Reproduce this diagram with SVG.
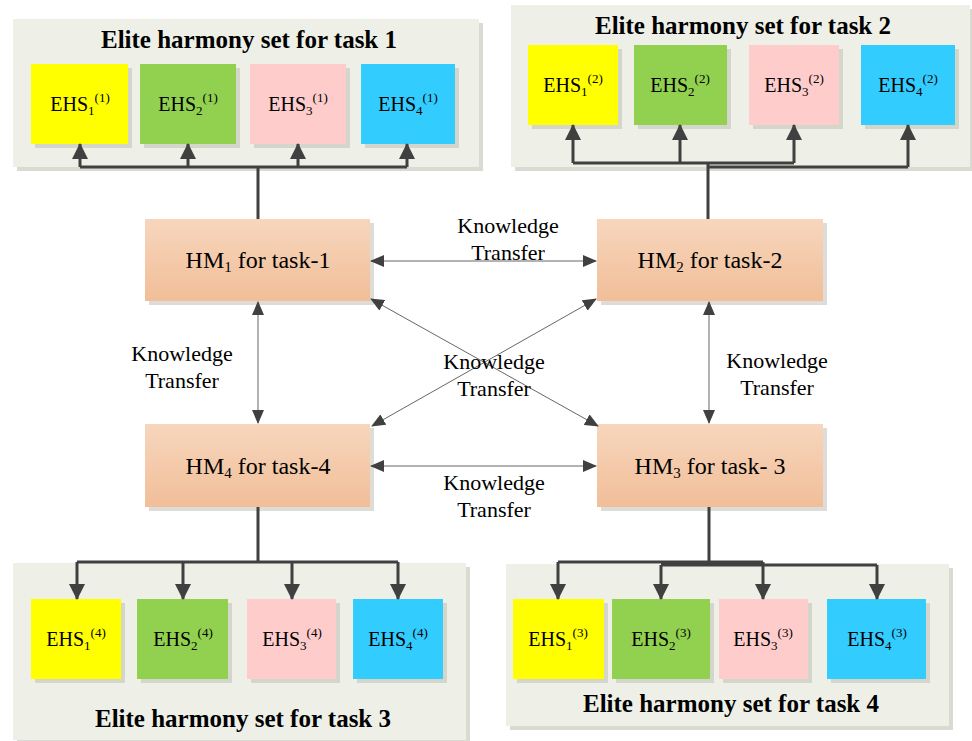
<svg xmlns="http://www.w3.org/2000/svg" width="972" height="741" viewBox="0 0 972 741" font-family="Liberation Serif">
<style>
.panel{fill:#eef0e8}
.pshadow{fill:#d9dbd3}
.bshadow{fill:#d4d6cc}
.y{fill:#ffff00}.g{fill:#92d050}.p{fill:#ffcccc}.b{fill:#33ccff}
.hm{fill:url(#hmg)}
.hmshadow{fill:#dedcd6}
.title{font-weight:bold;font-size:25px;fill:#000;text-anchor:middle}
.ehs{font-size:20px;fill:#000;text-anchor:middle}
.hmt{font-size:24px;fill:#000;text-anchor:middle}
.sm{font-size:13px}
.sm2{font-size:15px}
.kt{font-size:22px;fill:#000;text-anchor:middle}
.thick{stroke:#404040;stroke-width:3;fill:none}
.thin{stroke:#666;stroke-width:1;fill:none;marker-start:url(#ta);marker-end:url(#ta)}
</style>
<defs>
<linearGradient id="hmg" x1="0" y1="0" x2="0" y2="1">
<stop offset="0" stop-color="#f7d6bd"/>
<stop offset="1" stop-color="#f1be98"/>
</linearGradient>
<marker id="ba" markerUnits="userSpaceOnUse" markerWidth="16" markerHeight="16" refX="15" refY="8" orient="auto">
<path d="M0,0 L16,8 L0,16 z" fill="#404040"/>
</marker>
<marker id="ta" markerUnits="userSpaceOnUse" markerWidth="14" markerHeight="12" refX="13" refY="6" orient="auto-start-reverse">
<path d="M0,0 L14,6 L0,12 z" fill="#404040"/>
</marker>
</defs>

<!-- Panel task 1 -->
<g id="panel1">
<rect class="pshadow" x="17" y="23" width="466" height="148"/>
<rect class="panel" x="13" y="19" width="466" height="148"/>
<text class="title" x="249" y="48">Elite harmony set for task 1</text>
</g>
<g id="ehs1-1"><rect class="bshadow" x="35" y="68" width="97" height="80"/><rect class="y" x="31" y="64" width="97" height="80"/><text class="ehs" x="80" y="111">EHS<tspan class="sm" dy="4">1</tspan><tspan class="sm" dy="-13">(1)</tspan></text></g>
<g id="ehs1-2"><rect class="bshadow" x="144" y="68" width="96" height="80"/><rect class="g" x="140" y="64" width="96" height="80"/><text class="ehs" x="188" y="111">EHS<tspan class="sm" dy="4">2</tspan><tspan class="sm" dy="-13">(1)</tspan></text></g>
<g id="ehs1-3"><rect class="bshadow" x="254" y="68" width="96" height="80"/><rect class="p" x="250" y="64" width="96" height="80"/><text class="ehs" x="298" y="111">EHS<tspan class="sm" dy="4">3</tspan><tspan class="sm" dy="-13">(1)</tspan></text></g>
<g id="ehs1-4"><rect class="bshadow" x="365" y="68" width="94" height="80"/><rect class="b" x="361" y="64" width="94" height="80"/><text class="ehs" x="408" y="111">EHS<tspan class="sm" dy="4">4</tspan><tspan class="sm" dy="-13">(1)</tspan></text></g>

<!-- Panel task 2 -->
<g id="panel2">
<rect class="pshadow" x="515" y="9" width="459" height="162"/>
<rect class="panel" x="511" y="5" width="459" height="162"/>
<text class="title" x="743" y="34">Elite harmony set for task 2</text>
</g>
<g id="ehs2-1"><rect class="bshadow" x="532" y="49" width="90" height="80"/><rect class="y" x="528" y="45" width="90" height="80"/><text class="ehs" x="573" y="92">EHS<tspan class="sm" dy="4">1</tspan><tspan class="sm" dy="-13">(2)</tspan></text></g>
<g id="ehs2-2"><rect class="bshadow" x="638" y="49" width="93" height="80"/><rect class="g" x="634" y="45" width="93" height="80"/><text class="ehs" x="680" y="92">EHS<tspan class="sm" dy="4">2</tspan><tspan class="sm" dy="-13">(2)</tspan></text></g>
<g id="ehs2-3"><rect class="bshadow" x="753" y="49" width="90" height="80"/><rect class="p" x="749" y="45" width="90" height="80"/><text class="ehs" x="794" y="92">EHS<tspan class="sm" dy="4">3</tspan><tspan class="sm" dy="-13">(2)</tspan></text></g>
<g id="ehs2-4"><rect class="bshadow" x="865" y="49" width="94" height="80"/><rect class="b" x="861" y="45" width="94" height="80"/><text class="ehs" x="908" y="92">EHS<tspan class="sm" dy="4">4</tspan><tspan class="sm" dy="-13">(2)</tspan></text></g>

<!-- Panel task 3 -->
<g id="panel3">
<rect class="pshadow" x="17" y="567" width="453" height="177"/>
<rect class="panel" x="13" y="563" width="453" height="177"/>
<text class="title" x="243" y="727">Elite harmony set for task 3</text>
</g>
<g id="ehs3-1"><rect class="bshadow" x="35" y="603" width="90" height="80"/><rect class="y" x="31" y="599" width="90" height="80"/><text class="ehs" x="76" y="646">EHS<tspan class="sm" dy="4">1</tspan><tspan class="sm" dy="-13">(4)</tspan></text></g>
<g id="ehs3-2"><rect class="bshadow" x="141" y="603" width="91" height="80"/><rect class="g" x="137" y="599" width="91" height="80"/><text class="ehs" x="183" y="646">EHS<tspan class="sm" dy="4">2</tspan><tspan class="sm" dy="-13">(4)</tspan></text></g>
<g id="ehs3-3"><rect class="bshadow" x="251" y="603" width="89" height="80"/><rect class="p" x="247" y="599" width="89" height="80"/><text class="ehs" x="292" y="646">EHS<tspan class="sm" dy="4">3</tspan><tspan class="sm" dy="-13">(4)</tspan></text></g>
<g id="ehs3-4"><rect class="bshadow" x="357" y="603" width="90" height="80"/><rect class="b" x="353" y="599" width="90" height="80"/><text class="ehs" x="398" y="646">EHS<tspan class="sm" dy="4">4</tspan><tspan class="sm" dy="-13">(4)</tspan></text></g>

<!-- Panel task 4 -->
<g id="panel4">
<rect class="pshadow" x="510" y="568" width="443" height="162"/>
<rect class="panel" x="506" y="564" width="443" height="162"/>
<text class="title" x="731" y="712">Elite harmony set for task 4</text>
</g>
<g id="ehs4-1"><rect class="bshadow" x="517" y="603" width="91" height="80"/><rect class="y" x="513" y="599" width="91" height="80"/><text class="ehs" x="558" y="646">EHS<tspan class="sm" dy="4">1</tspan><tspan class="sm" dy="-13">(3)</tspan></text></g>
<g id="ehs4-2"><rect class="bshadow" x="616" y="603" width="98" height="80"/><rect class="g" x="612" y="599" width="98" height="80"/><text class="ehs" x="661" y="646">EHS<tspan class="sm" dy="4">2</tspan><tspan class="sm" dy="-13">(3)</tspan></text></g>
<g id="ehs4-3"><rect class="bshadow" x="723" y="603" width="89" height="80"/><rect class="p" x="719" y="599" width="89" height="80"/><text class="ehs" x="763" y="646">EHS<tspan class="sm" dy="4">3</tspan><tspan class="sm" dy="-13">(3)</tspan></text></g>
<g id="ehs4-4"><rect class="bshadow" x="831" y="603" width="99" height="80"/><rect class="b" x="827" y="599" width="99" height="80"/><text class="ehs" x="877" y="646">EHS<tspan class="sm" dy="4">4</tspan><tspan class="sm" dy="-13">(3)</tspan></text></g>

<!-- HM nodes -->
<g id="hm1"><rect class="hmshadow" x="149" y="223" width="225" height="82"/><rect class="hm" x="145" y="219" width="225" height="82"/><text class="hmt" x="258" y="268">HM<tspan class="sm2" dy="4">1</tspan><tspan dy="-4"> for task-1</tspan></text></g>
<g id="hm2"><rect class="hmshadow" x="601" y="223" width="226" height="82"/><rect class="hm" x="597" y="219" width="226" height="82"/><text class="hmt" x="710" y="268">HM<tspan class="sm2" dy="4">2</tspan><tspan dy="-4"> for task-2</tspan></text></g>
<g id="hm4"><rect class="hmshadow" x="149" y="428" width="225" height="83"/><rect class="hm" x="145" y="424" width="225" height="83"/><text class="hmt" x="258" y="474">HM<tspan class="sm2" dy="4">4</tspan><tspan dy="-4"> for task-4</tspan></text></g>
<g id="hm3"><rect class="hmshadow" x="601" y="428" width="226" height="83"/><rect class="hm" x="597" y="424" width="226" height="83"/><text class="hmt" x="710" y="474">HM<tspan class="sm2" dy="4">3</tspan><tspan dy="-4"> for task- 3</tspan></text></g>

<!-- Connectors -->
<g id="connectors">
<path class="thick" d="M258,219 V167 M80,167 H407"/>
<path class="thick" d="M80,167 V144" marker-end="url(#ba)"/>
<path class="thick" d="M188,167 V144" marker-end="url(#ba)"/>
<path class="thick" d="M298,167 V144" marker-end="url(#ba)"/>
<path class="thick" d="M407,167 V144" marker-end="url(#ba)"/>
<path class="thick" d="M708,219 V163 M573,163 H794 M708,167 H908"/>
<path class="thick" d="M573,163 V125" marker-end="url(#ba)"/>
<path class="thick" d="M680,163 V125" marker-end="url(#ba)"/>
<path class="thick" d="M794,163 V125" marker-end="url(#ba)"/>
<path class="thick" d="M908,167 V125" marker-end="url(#ba)"/>
<path class="thick" d="M258,507 V562 M77,562 H398"/>
<path class="thick" d="M77,562 V599" marker-end="url(#ba)"/>
<path class="thick" d="M183,562 V599" marker-end="url(#ba)"/>
<path class="thick" d="M292,562 V599" marker-end="url(#ba)"/>
<path class="thick" d="M398,562 V599" marker-end="url(#ba)"/>
<path class="thick" d="M709,507 V562 M558,562 H763 M661,565 H877"/>
<path class="thick" d="M558,562 V599" marker-end="url(#ba)"/>
<path class="thick" d="M661,565 V599" marker-end="url(#ba)"/>
<path class="thick" d="M763,562 V599" marker-end="url(#ba)"/>
<path class="thick" d="M877,565 V599" marker-end="url(#ba)"/>
<line class="thin" x1="371" y1="261" x2="596" y2="261"/>
<line class="thin" x1="371" y1="466" x2="596" y2="466"/>
<line class="thin" x1="258" y1="302" x2="258" y2="423"/>
<line class="thin" x1="709" y1="302" x2="709" y2="423"/>
<line class="thin" x1="371" y1="299" x2="598" y2="426"/>
<line class="thin" x1="596" y1="299" x2="372" y2="426"/>
</g>

<!-- Labels -->
<g id="labels">
<text class="kt" x="508" y="233">Knowledge</text>
<text class="kt" x="508" y="260">Transfer</text>
<text class="kt" x="182" y="361">Knowledge</text>
<text class="kt" x="182" y="388">Transfer</text>
<text class="kt" x="494" y="369">Knowledge</text>
<text class="kt" x="494" y="396">Transfer</text>
<text class="kt" x="777" y="368">Knowledge</text>
<text class="kt" x="777" y="395">Transfer</text>
<text class="kt" x="494" y="490">Knowledge</text>
<text class="kt" x="494" y="517">Transfer</text>
</g>
</svg>
